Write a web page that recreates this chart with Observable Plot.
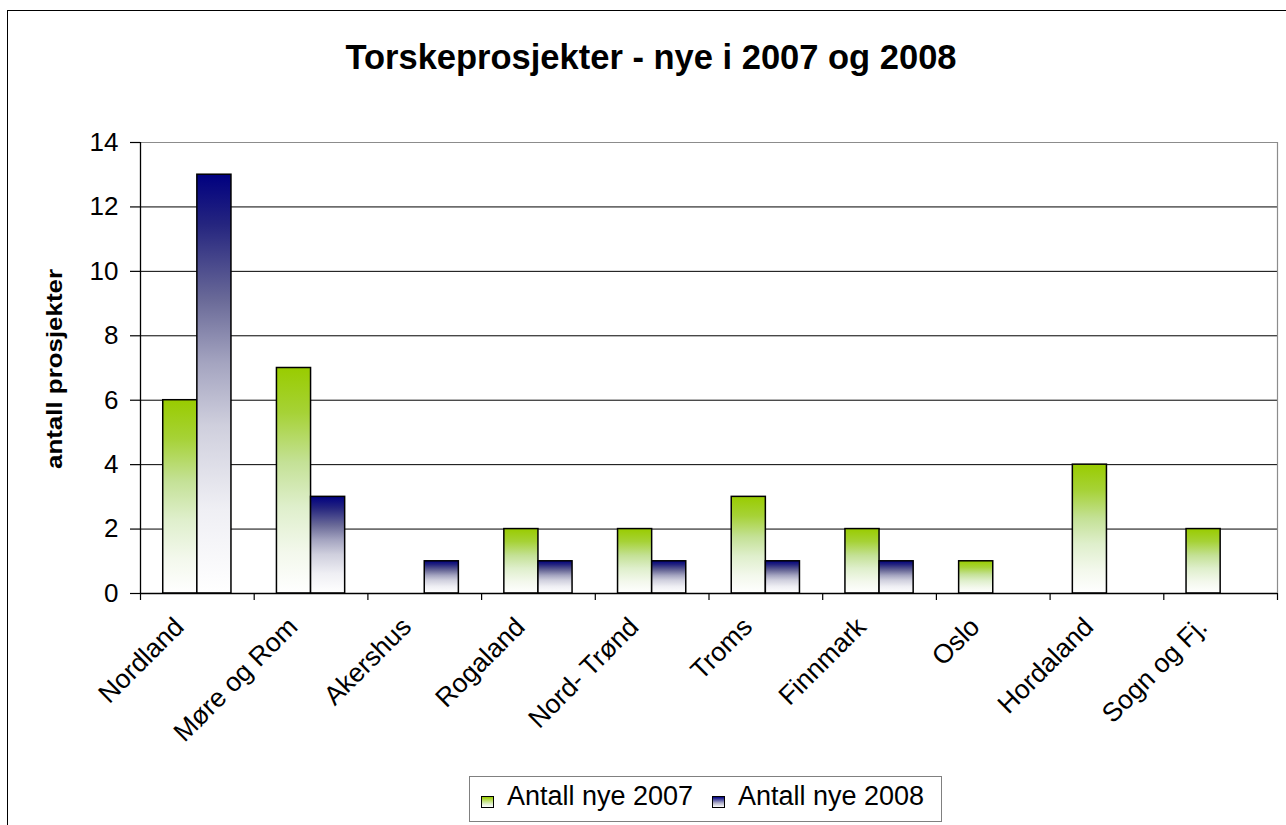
<!DOCTYPE html>
<html>
<head>
<meta charset="utf-8">
<script src="https://cdn.jsdelivr.net/npm/d3@7"></script>
<script src="https://cdn.jsdelivr.net/npm/@observablehq/plot@0.6"></script>
<style>
  html, body { margin: 0; padding: 0; background: #fff; }
  body { width: 1286px; height: 825px; position: relative; overflow: hidden; font-family: "Liberation Sans", Arial, sans-serif; }
  #frame { position: absolute; left: 7px; top: 10px; width: 1300px; height: 830px; border: 1px solid #000; box-sizing: border-box; }
  #chart { position: absolute; left: 0; top: 0; }
  #title { position: absolute; left: 0; top: 40px; width: 1302px; text-align: center; font-size: 34.5px; line-height: 34px; font-weight: bold; color: #000; white-space: nowrap; }
  #legend { position: absolute; left: 469px; top: 776px; width: 473px; height: 46px; border: 1px solid #808080; box-sizing: border-box; background: #fff; }
  .sw { position: absolute; width: 11px; height: 10px; border: 1px solid #000; box-sizing: content-box; }
  .lt { position: absolute; font-size: 27px; line-height: 27px; color: #000; white-space: nowrap; }
</style>
</head>
<body>
<div id="frame"></div>
<div id="chart"></div>
<div id="title"></div>
<div id="legend"></div>
<script>
// ---- data ----
const categories = ["Nordland", "Møre og Rom", "Akershus", "Rogaland", "Nord- Trønd", "Troms", "Finnmark", "Oslo", "Hordaland", "Sogn og Fj."];
const seriesNames = ["Antall nye 2007", "Antall nye 2008"];
const values2007 = [6, 7, 0, 2, 2, 3, 2, 1, 4, 2];
const values2008 = [13, 3, 1, 1, 1, 1, 1, 0, 0, 0];
const yTicks = [0, 2, 4, 6, 8, 10, 12, 14];
const titleText = "Torskeprosjekter - nye i 2007 og 2008";
const yTitle = "antall prosjekter";

// ---- table ----
const rows = [];
categories.forEach((c, i) => {
  rows.push({cat: c, i, s: 0, value: values2007[i]});
  rows.push({cat: c, i, s: 1, value: values2008[i]});
});
const bars = rows.filter(d => d.value > 0);
const boundaries = d3.range(categories.length + 1);
const gridVals = yTicks.filter(v => v > 0 && v < d3.max(yTicks));
const fills = ["url(#g2007)", "url(#g2008)"];

const svg = Plot.plot({
  width: 1286,
  height: 825,
  marginTop: 142,
  marginBottom: 232,
  marginLeft: 140,
  marginRight: 9,
  style: {fontFamily: "'Liberation Sans', Arial, sans-serif", color: "#000", background: "transparent", overflow: "visible"},
  x: {domain: [0, categories.length], axis: null},
  y: {domain: [0, d3.max(yTicks)], axis: null},
  marks: [
    Plot.ruleY(gridVals, {stroke: "#000", strokeWidth: 1}),
    Plot.ruleY([d3.max(yTicks)], {stroke: "#8c8c8c", strokeWidth: 1.2}),
    Plot.ruleX([categories.length], {y1: 0, y2: d3.max(yTicks), stroke: "#8c8c8c", strokeWidth: 1.2}),
    Plot.rectY(bars, {
      x1: d => d.i + 0.2 + d.s * 0.3,
      x2: d => d.i + 0.5 + d.s * 0.3,
      y1: 0,
      y2: "value",
      fill: d => fills[d.s],
      stroke: "#000",
      strokeWidth: 1.5
    }),
    Plot.ruleX([0], {y1: 0, y2: d3.max(yTicks), stroke: "#000", strokeWidth: 1.3}),
    Plot.ruleY([0], {stroke: "#000", strokeWidth: 1.3}),
    Plot.axisY(yTicks, {anchor: "left", tickSize: 10, tickPadding: 12, fontSize: 26, label: null, strokeWidth: 1.2}),
    Plot.axisX(boundaries, {anchor: "bottom", tickSize: 7, tickFormat: () => "", label: null, strokeWidth: 1.2}),
    Plot.text(categories, {
      x: (d, i) => i + 0.5,
      frameAnchor: "bottom",
      text: d => d,
      rotate: -45,
      textAnchor: "end",
      lineAnchor: "middle",
      dx: -18,
      dy: 29,
      fontSize: 26.5,
      fill: "#000"
    })
  ]
});

// gradients
const defs = d3.select(svg).insert("defs", ":first-child");
function grad(id, stops) {
  const g = defs.append("linearGradient").attr("id", id)
    .attr("x1", 0).attr("y1", 0).attr("x2", 0).attr("y2", 1);
  stops.forEach(([o, c]) => g.append("stop").attr("offset", o).attr("stop-color", c));
}
grad("g2007", [[0, "#99cc00"], [0.2, "#a6d236"], [0.42, "#c4e196"], [0.62, "#dfefcc"], [0.82, "#f3f8ec"], [1, "#ffffff"]]);
grad("g2008", [[0, "#000080"], [0.12, "#25257f"], [0.3, "#6a6a98"], [0.45, "#a4a4c0"], [0.6, "#cfcfdd"], [0.8, "#efeff4"], [1, "#ffffff"]]);

// y axis title
d3.select(svg).append("text")
  .attr("transform", "translate(62,369) rotate(-90)")
  .attr("text-anchor", "middle")
  .attr("font-weight", "bold")
  .attr("font-size", 22)
  .attr("textLength", 200)
  .attr("lengthAdjust", "spacingAndGlyphs")
  .attr("fill", "#000")
  .text(yTitle);

document.getElementById("chart").appendChild(svg);
document.getElementById("title").textContent = titleText;

// legend
const legend = document.getElementById("legend");
const swatchCss = [
  "linear-gradient(to bottom, #99cc00, #dfefcc 70%, #ffffff)",
  "linear-gradient(to bottom, #000080, #b0b0c8 60%, #ffffff)"
];
const swX = [11, 242];
const txX = [37, 268];
seriesNames.forEach((name, k) => {
  const sw = document.createElement("div");
  sw.className = "sw";
  sw.style.left = swX[k] + "px";
  sw.style.top = "19px";
  sw.style.background = swatchCss[k];
  legend.appendChild(sw);
  const t = document.createElement("div");
  t.className = "lt";
  t.style.left = txX[k] + "px";
  t.style.top = "6px";
  t.textContent = name;
  legend.appendChild(t);
});
</script>
</body>
</html>
